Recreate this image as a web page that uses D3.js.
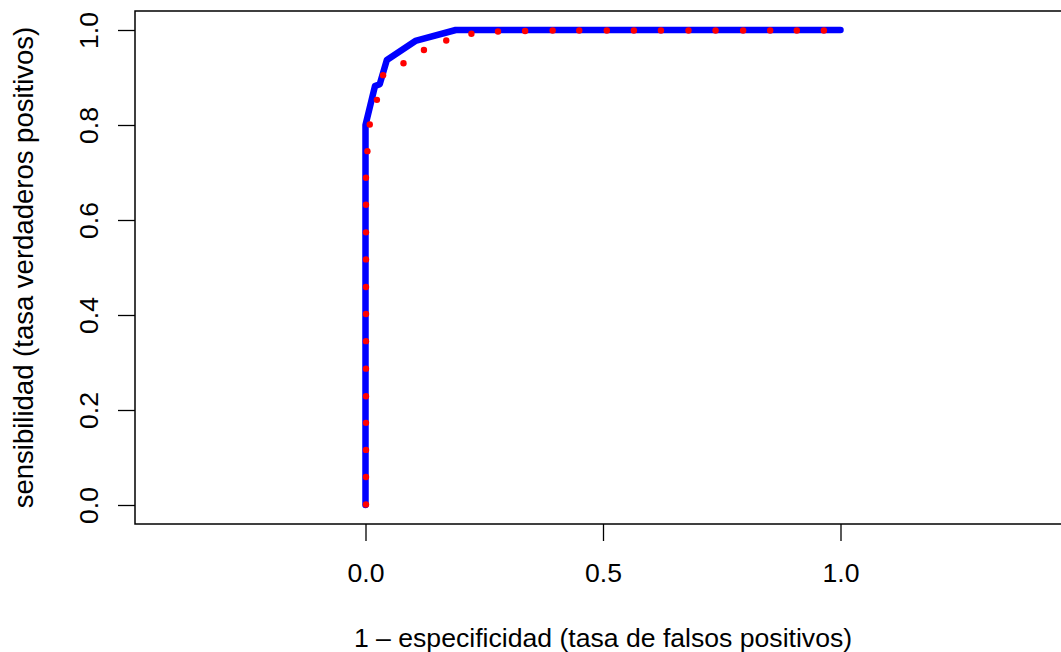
<!DOCTYPE html>
<html>
<head>
<meta charset="utf-8">
<script src="https://cdn.jsdelivr.net/npm/d3@7"></script>
<style>
  body { margin: 0; background: #fff; }
  svg { display: block; }
  text { font-family: "Liberation Sans", Arial, Helvetica, sans-serif; fill: #000; }
</style>
</head>
<body>
<svg id="chart" width="1061" height="652"></svg>
<script>
// Empirical ROC curve (blue, thick)
const rocFPR = [0, 0, 0.02, 0.03, 0.045, 0.105, 0.19, 1.0];
const rocTPR = [0, 0.80, 0.882, 0.886, 0.937, 0.977, 1.0, 1.0];

// Smoothed ROC curve (red dots)
const smoothFPR = [0.001, 0.001, 0.001, 0.001, 0.001, 0.001, 0.001, 0.001, 0.001, 0.001, 0.001, 0.001, 0.001,
  0.004, 0.009, 0.024, 0.037, 0.080, 0.123, 0.170, 0.223, 0.279, 0.336, 0.394, 0.450, 0.508, 0.565,
  0.622, 0.680, 0.737, 0.795, 0.852, 0.908, 0.965];
const smoothTPR = [0.001, 0.059, 0.116, 0.173, 0.229, 0.287, 0.345, 0.402, 0.459, 0.517, 0.574, 0.632, 0.689,
  0.745, 0.801, 0.853, 0.905, 0.930, 0.958, 0.978, 0.992, 0.997, 0.998, 0.999, 0.999, 0.999, 0.999,
  0.999, 0.999, 0.999, 0.999, 0.999, 0.999, 0.999];

const xTicks = [0, 0.5, 1.0];
const xTickLabels = ["0.0", "0.5", "1.0"];
const yTicks = [0, 0.2, 0.4, 0.6, 0.8, 1.0];
const yTickLabels = ["0.0", "0.2", "0.4", "0.6", "0.8", "1.0"];

const xTitle = "1 \u2013 especificidad (tasa de falsos positivos)";
const yTitle = "sensibilidad (tasa verdaderos positivos)";

const svg = d3.select("#chart");
const box = { left: 135, right: 1071, top: 11, bottom: 524 };
const unit = 475;
const x0 = 365.5;
const x = d3.scaleLinear()
  .domain([(box.left - x0) / unit, (box.right - x0) / unit])
  .range([box.left, box.right]);
const y = d3.scaleLinear().domain([-0.04, 1.04]).range([box.bottom, box.top]);

const fs = 26.6;

// Curves
const rocData = rocFPR.map((d, i) => [d, rocTPR[i]]);
svg.append("path")
  .datum(rocData)
  .attr("d", d3.line().x(d => x(d[0])).y(d => y(d[1])))
  .attr("fill", "none")
  .attr("stroke", "#0000ff")
  .attr("stroke-width", 6.5)
  .attr("stroke-linecap", "round")
  .attr("stroke-linejoin", "round");

svg.selectAll("circle.smooth")
  .data(smoothFPR.map((d, i) => [d, smoothTPR[i]]))
  .enter().append("circle")
  .attr("class", "smooth")
  .attr("cx", d => x(d[0]))
  .attr("cy", d => y(d[1]))
  .attr("r", 3.2)
  .attr("fill", "#ff0000");

// Box
svg.append("rect")
  .attr("x", box.left).attr("y", box.top)
  .attr("width", box.right - box.left).attr("height", box.bottom - box.top)
  .attr("fill", "none").attr("stroke", "#000").attr("stroke-width", 1.5);

// X axis
const xAxis = d3.axisBottom(x).tickValues(xTicks)
  .tickFormat((d, i) => xTickLabels[i]).tickSize(17).tickPadding(0);
const gx = svg.append("g").attr("transform", `translate(0,${box.bottom})`).call(xAxis);
gx.select(".domain").remove();
gx.selectAll(".tick line").attr("stroke", "#000").attr("stroke-width", 1.3);
gx.selectAll(".tick text").attr("font-size", fs).attr("font-family", "Liberation Sans, Arial, sans-serif")
  .attr("dy", null).attr("y", 58);

// Y axis
const yAxis = d3.axisLeft(y).tickValues(yTicks)
  .tickFormat((d, i) => yTickLabels[i]).tickSize(17).tickPadding(0);
const gy = svg.append("g").attr("transform", `translate(${box.left},0)`).call(yAxis);
gy.select(".domain").remove();
gy.selectAll(".tick line").attr("stroke", "#000").attr("stroke-width", 1.3);
gy.selectAll(".tick text")
  .attr("font-size", fs).attr("font-family", "Liberation Sans, Arial, sans-serif")
  .attr("x", null).attr("dy", null)
  .attr("text-anchor", "middle")
  .attr("transform", `translate(${98 - box.left},0) rotate(-90)`);

// Titles
svg.append("text")
  .attr("x", x(0.5)).attr("y", 647)
  .attr("text-anchor", "middle").attr("font-size", fs)
  .text(xTitle);

svg.append("text")
  .attr("transform", `translate(33,${(box.top + box.bottom) / 2}) rotate(-90)`)
  .attr("text-anchor", "middle").attr("font-size", 27.5)
  .text(yTitle);
</script>
</body>
</html>
